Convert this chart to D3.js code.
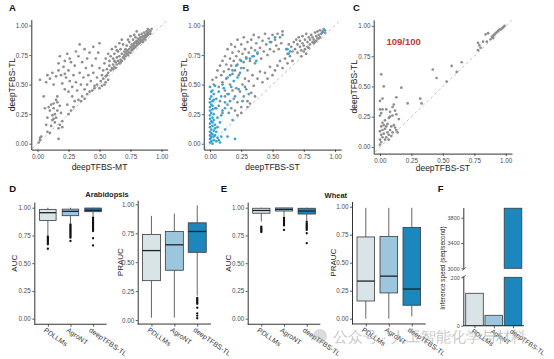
<!DOCTYPE html>
<html><head><meta charset="utf-8">
<script src="https://cdn.jsdelivr.net/npm/d3@7"></script>
<style>
body{margin:0;background:#fff;}
svg text{font-family:"Liberation Sans",Arial,Helvetica,sans-serif;}
</style></head><body>
<svg id="c" width="554" height="359"></svg>
<script>
// ---------------- DATA ----------------
const ticks01 = [0, 0.25, 0.5, 0.75, 1];

const scatterA = [
[0.01,0.01],[0.02,0.03],[0.02,0.05],[0.03,0.06],[0.02,0.54],[0.05,0.40],[0.06,0.30],[0.07,0.16],[0.08,0.10],[0.10,0.09],
[0.08,0.22],[0.09,0.31],[0.10,0.28],[0.11,0.33],[0.12,0.24],[0.12,0.20],[0.13,0.30],[0.13,0.34],[0.14,0.25],[0.14,0.18],
[0.15,0.22],[0.15,0.37],[0.16,0.28],[0.16,0.40],[0.17,0.13],[0.17,0.04],[0.18,0.32],[0.18,0.16],[0.19,0.26],[0.20,0.14],
[0.20,0.19],[0.16,0.35],[0.13,0.21],[0.11,0.15],
[0.07,0.52],[0.08,0.58],[0.10,0.55],[0.12,0.60],[0.13,0.50],[0.15,0.57],[0.17,0.68],[0.17,0.62],[0.18,0.74],[0.19,0.58],
[0.20,0.51],[0.21,0.65],[0.22,0.70],[0.22,0.46],[0.23,0.56],[0.24,0.76],[0.25,0.62],[0.25,0.44],[0.26,0.53],[0.27,0.69],
[0.28,0.48],[0.28,0.40],[0.29,0.58],[0.30,0.66],[0.31,0.78],[0.31,0.52],[0.32,0.45],[0.33,0.74],[0.34,0.84],[0.34,0.60],
[0.35,0.50],[0.36,0.69],[0.37,0.56],[0.38,0.80],[0.38,0.46],[0.39,0.64],[0.40,0.72],[0.40,0.50],[0.41,0.58],[0.42,0.77],
[0.43,0.53],[0.44,0.66],[0.45,0.82],[0.45,0.60],[0.46,0.49],[0.47,0.72],[0.48,0.56],[0.49,0.77],[0.50,0.64],[0.50,0.85],
[0.22,0.59],[0.26,0.72],[0.29,0.31],[0.30,0.36],[0.27,0.28],[0.24,0.33],[0.33,0.37],[0.36,0.40],[0.25,0.25],
[0.35,0.36],[0.40,0.42],[0.42,0.44],[0.46,0.47],[0.48,0.50],[0.44,0.45],[0.38,0.38],
[0.52,0.49],[0.55,0.52],[0.57,0.54],[0.50,0.47],[0.54,0.50],
[0.51,0.53],[0.52,0.58],[0.53,0.62],[0.54,0.68],[0.55,0.57],[0.55,0.72],[0.56,0.63],[0.57,0.60],[0.57,0.76],[0.58,0.66],
[0.58,0.70],[0.59,0.62],[0.59,0.74],[0.60,0.64],[0.60,0.80],[0.53,0.55],[0.56,0.58],
[0.61,0.67],[0.61,0.72],[0.62,0.65],[0.62,0.76],[0.63,0.69],[0.63,0.82],[0.64,0.67],[0.64,0.73],[0.65,0.70],[0.65,0.78],
[0.66,0.68],[0.66,0.74],[0.67,0.71],[0.67,0.80],[0.68,0.70],[0.68,0.76],[0.69,0.73],[0.69,0.84],[0.70,0.72],[0.70,0.78],
[0.62,0.70],[0.64,0.79],[0.66,0.85],[0.68,0.88],[0.61,0.63],[0.63,0.64],[0.67,0.69],
[0.71,0.74],[0.71,0.80],[0.72,0.76],[0.72,0.83],[0.73,0.75],[0.73,0.78],[0.74,0.80],[0.74,0.86],[0.75,0.77],[0.75,0.82],
[0.76,0.79],[0.76,0.84],[0.77,0.80],[0.77,0.88],[0.78,0.81],[0.78,0.85],[0.79,0.82],[0.79,0.90],[0.80,0.83],[0.80,0.87],
[0.72,0.79],[0.74,0.77],[0.76,0.81],[0.78,0.83],[0.73,0.88],[0.75,0.91],[0.71,0.77],[0.77,0.83],[0.79,0.86],[0.70,0.75],
[0.81,0.84],[0.81,0.89],[0.82,0.85],[0.82,0.92],[0.83,0.86],[0.83,0.88],[0.84,0.87],[0.84,0.93],[0.85,0.88],[0.85,0.91],
[0.86,0.89],[0.86,0.94],[0.87,0.90],[0.87,0.92],[0.88,0.91],[0.88,0.95],[0.89,0.92],[0.89,0.94],[0.90,0.93],[0.90,0.96],
[0.91,0.95],[0.92,0.97],[0.81,0.86],[0.83,0.90],[0.85,0.86],[0.87,0.88],[0.84,0.90],[0.86,0.91],[0.88,0.93],[0.82,0.88],
[0.80,0.85],[0.89,0.97],[0.91,0.93],[0.78,0.92],[0.80,0.95]
];

const scatterBGray = [
[0.02,0.54],[0.03,0.50],[0.05,0.56],[0.06,0.62],[0.07,0.48],[0.08,0.66],[0.09,0.58],[0.10,0.70],[0.10,0.52],[0.11,0.61],
[0.12,0.74],[0.12,0.45],[0.13,0.67],[0.14,0.56],[0.14,0.80],[0.15,0.63],[0.16,0.72],[0.16,0.50],[0.17,0.84],[0.17,0.66],
[0.18,0.59],[0.18,0.77],[0.19,0.70],[0.20,0.62],[0.20,0.82],[0.21,0.74],[0.22,0.67],[0.22,0.88],[0.23,0.58],[0.23,0.78],
[0.24,0.71],[0.25,0.84],[0.25,0.64],[0.26,0.76],[0.27,0.90],[0.27,0.69],[0.28,0.80],[0.29,0.73],[0.30,0.86],[0.30,0.62],
[0.31,0.77],[0.32,0.70],[0.33,0.88],[0.33,0.81],[0.34,0.74],[0.35,0.92],[0.36,0.79],[0.36,0.68],[0.37,0.85],[0.38,0.76],
[0.39,0.90],[0.40,0.81],[0.41,0.72],[0.42,0.87],[0.43,0.78],[0.44,0.93],[0.45,0.84],[0.46,0.75],[0.47,0.89],[0.48,0.80],
[0.49,0.86],[0.50,0.92],[0.51,0.78],[0.52,0.88],[0.53,0.83],[0.54,0.93],[0.55,0.80],[0.56,0.90],[0.57,0.85],[0.58,0.95],
[0.05,0.30],[0.08,0.36],[0.10,0.26],[0.12,0.40],[0.14,0.33],[0.15,0.42],[0.17,0.30],[0.18,0.45],[0.19,0.38],[0.20,0.28],
[0.21,0.47],[0.22,0.35],[0.24,0.44],[0.25,0.31],[0.26,0.50],[0.27,0.40],[0.28,0.55],[0.29,0.46],[0.30,0.36],[0.31,0.53],
[0.33,0.43],[0.34,0.58],[0.35,0.49],[0.36,0.40],[0.38,0.55],[0.40,0.61],[0.42,0.52],[0.44,0.60],[0.46,0.55],[0.48,0.65],
[0.50,0.58],[0.52,0.62],[0.54,0.66],[0.56,0.70],[0.58,0.64],[0.25,0.26],[0.22,0.24],[0.30,0.31],[0.32,0.34],
[0.60,0.72],[0.61,0.80],[0.62,0.76],[0.63,0.84],[0.64,0.74],[0.65,0.82],[0.66,0.78],[0.67,0.86],[0.68,0.80],[0.69,0.88],
[0.70,0.77],[0.70,0.84],[0.71,0.90],[0.72,0.82],[0.72,0.87],[0.73,0.79],[0.74,0.85],[0.74,0.91],[0.75,0.83],[0.76,0.88],
[0.76,0.80],[0.77,0.93],[0.78,0.86],[0.78,0.82],[0.79,0.90],[0.80,0.84],[0.80,0.88],[0.81,0.92],[0.82,0.86],[0.82,0.90],
[0.83,0.88],[0.84,0.94],[0.84,0.86],[0.85,0.91],[0.86,0.89],[0.86,0.95],[0.87,0.92],[0.88,0.90],[0.88,0.96],[0.89,0.93],
[0.90,0.95],[0.91,0.97],[0.92,0.94],[0.75,0.78],[0.79,0.81],[0.83,0.85],[0.85,0.87],[0.87,0.89],[0.73,0.74],[0.77,0.76],
[0.66,0.70],[0.62,0.68]
];

const scatterBBlue = [
[0.00,0.01],[0.01,0.02],[0.02,0.00],[0.00,0.04],[0.01,0.06],[0.03,0.03],[0.02,0.08],[0.00,0.10],[0.01,0.12],[0.03,0.11],
[0.02,0.15],[0.00,0.17],[0.01,0.19],[0.04,0.16],[0.02,0.22],[0.00,0.24],[0.01,0.26],[0.03,0.25],[0.02,0.29],[0.00,0.31],
[0.01,0.33],[0.04,0.30],[0.02,0.36],[0.00,0.38],[0.01,0.40],[0.03,0.42],[0.02,0.45],[0.00,0.48],[0.04,0.49],[0.01,0.05],
[0.05,0.02],[0.06,0.05],[0.04,0.07],[0.00,0.14],[0.02,0.18],[0.00,0.21],[0.03,0.20],[0.00,0.28],[0.02,0.32],[0.00,0.35],
[0.03,0.37],[0.01,0.44],[0.05,0.10],[0.06,0.14],[0.07,0.03],[0.09,0.06],[0.08,0.01],[0.03,0.06],[0.01,0.09],[0.04,0.13],
[0.00,0.07],
[0.06,0.22],[0.07,0.32],[0.08,0.18],[0.09,0.40],[0.10,0.28],[0.11,0.47],[0.12,0.35],[0.12,0.12],[0.13,0.55],[0.14,0.42],
[0.15,0.26],[0.16,0.58],[0.16,0.36],[0.17,0.48],[0.18,0.62],[0.18,0.20],[0.19,0.53],[0.20,0.04],[0.20,0.40],[0.21,0.66],
[0.22,0.56],[0.23,0.46],[0.24,0.60],[0.25,0.70],[0.26,0.36],[0.27,0.64],[0.28,0.48],[0.29,0.72],[0.31,0.42],[0.32,0.72],
[0.35,0.74],[0.37,0.70],[0.38,0.77],[0.09,0.24],[0.14,0.06],[0.10,0.50],[0.05,0.38],[0.07,0.44],[0.12,0.30],
[0.62,0.80],[0.64,0.78],[0.63,0.76],[0.90,0.94],[0.92,0.96],[0.58,0.92],[0.48,0.86],[0.52,0.90]
];

const scatterC = [
[0.01,0.60],[0.03,0.50],[0.02,0.40],[0.00,0.38],[0.17,0.49],[0.13,0.41],[0.42,0.64],[0.45,0.57],[0.57,0.67],[0.65,0.70],
[0.61,0.62],[0.53,0.54],[0.32,0.40],[0.33,0.36],[0.22,0.36],
[0.00,0.31],[0.02,0.31],[0.05,0.31],[0.10,0.33],[0.08,0.25],[0.13,0.27],[0.15,0.23],[0.13,0.14],[0.12,0.16],[0.14,0.12],
[0.78,0.86],[0.79,0.84],[0.80,0.82],[0.78,0.80],[0.82,0.87],[0.84,0.93],[0.86,0.94],[0.85,0.87],
[0.89,0.91],[0.90,0.92],[0.91,0.93],[0.92,0.94],[0.93,0.95],[0.94,0.96],[0.95,0.97],[0.96,0.97],[0.97,0.98],[0.98,0.99],
[0.99,1.00],[0.90,0.90],[0.88,0.89],
[0.00,0.02],[0.01,0.04],[0.00,0.06],[0.02,0.08],[0.01,0.10],[0.03,0.11],[0.00,0.13],[0.02,0.14],[0.04,0.15],[0.01,0.17],
[0.03,0.18],[0.05,0.17],[0.06,0.12],[0.07,0.10],[0.05,0.08],[0.08,0.14],[0.09,0.17],[0.04,0.06],[0.06,0.19],[0.02,0.20],
[0.07,0.06],[0.10,0.12],[0.09,0.09],[0.11,0.18],[0.00,0.26],[0.01,0.28],[0.04,0.22],[0.07,0.24],[0.10,0.26],[0.12,0.30],
[0.11,0.35],[0.08,0.29]
];

const models = ["PDLLMs", "AgroNT", "deepTFBS-TL"];

// box stats: [lower whisker, q1, median, q3, upper whisker]
const aucAraStats = [[0.745,0.885,0.955,0.985,1.0],[0.86,0.928,0.967,0.987,1.0],[0.92,0.964,0.977,0.997,1.0]];
const aucAraOut = [
 [0.74,0.73,0.72,0.71,0.70,0.69,0.68,0.67,0.63],
 [0.85,0.84,0.83,0.82,0.81,0.80,0.79,0.78,0.77,0.76,0.75,0.74,0.73,0.70],
 [0.91,0.90,0.89,0.88,0.87,0.86,0.85,0.84,0.83,0.82,0.81,0.80,0.79,0.725,0.66]
];
const prAraStats = [[0.02,0.34,0.60,0.74,0.90],[0.02,0.43,0.65,0.765,0.92],[0.21,0.585,0.765,0.84,0.99]];
const prAraOut = [[],[],[0.19,0.18,0.17,0.16,0.15,0.14,0.106,0.058,0.037,0.015]];

const aucWheatStats = [[0.875,0.95,0.975,0.995,1.0],[0.925,0.97,0.985,0.998,1.0],[0.885,0.943,0.97,0.995,1.0]];
const aucWheatOut = [
 [0.83,0.82,0.81,0.80,0.79,0.78],
 [0.91,0.90,0.89,0.88,0.87,0.86,0.85,0.84,0.80],
 [0.875,0.86,0.85,0.84,0.83,0.82,0.81,0.80,0.77,0.68]
];
const prWheatStats = [[0.0,0.158,0.336,0.73,0.99],[0.0,0.23,0.38,0.735,0.99],[0.02,0.12,0.265,0.815,0.99]];
const prWheatOut = [[],[],[]];

const speeds = [134, 43, 3950];
const speedTicksLow = [0, 200];
const speedTicksHigh = [3000, 3400, 3800];

// ---------------- DRAWING ----------------
const svg = d3.select("#c");
const FF = "'Liberation Sans', Arial, Helvetica, sans-serif";
const GRAY = "#8e8e8e", BLUE = "#35a5d6";
const boxFill = {"PDLLMs":"#d9e4e8","AgroNT":"#9bc6de","deepTFBS-TL":"#1b87bd"};

function styleAxis(g, fs){
  g.attr("font-family", FF);
  g.select(".domain").attr("stroke","#333").attr("stroke-width",1);
  g.selectAll(".tick line").attr("stroke","#333").attr("stroke-width",0.8);
  g.selectAll(".tick text").attr("fill","#4d4d4d").attr("font-size",fs);
}
function letter(t,x,y){
  svg.append("text").attr("x",x).attr("y",y).attr("font-size",9.5).attr("font-weight","bold").attr("fill","#111").text(t);
}
function vTitle(t,x,y,fs){
  svg.append("text").attr("transform",`translate(${x},${y}) rotate(-90)`).attr("text-anchor","middle")
    .attr("dy","0.35em").attr("font-size",fs).attr("fill","#222").text(t);
}

function scatter(cfg){
  const x = d3.scaleLinear().domain(cfg.xd).range(cfg.xr);
  const y = d3.scaleLinear().domain(cfg.yd).range(cfg.yr);
  const g = svg.append("g");
  g.append("line").attr("x1",x(-0.04)).attr("y1",y(-0.04)).attr("x2",x(1.05)).attr("y2",y(1.05))
    .attr("stroke","#bdbdbd").attr("stroke-width",0.9).attr("stroke-dasharray","3,2.5");
  cfg.series.forEach(s=>{
    g.selectAll(null).data(s.pts).enter().append("circle")
      .attr("cx",d=>x(d[0])).attr("cy",d=>y(d[1])).attr("r",1.35).attr("fill",s.color);
  });
  const ay = svg.append("g").attr("transform",`translate(${cfg.xr[0]},0)`)
    .call(d3.axisLeft(y).tickValues(ticks01).tickFormat(d3.format(".2f")).tickSize(2).tickSizeOuter(0).tickPadding(1.2));
  styleAxis(ay,6.3);
  const ax = svg.append("g").attr("transform",`translate(0,${cfg.yr[0]})`)
    .call(d3.axisBottom(x).tickValues(ticks01).tickFormat(d3.format(".2f")).tickSize(2.5).tickSizeOuter(0).tickPadding(2));
  styleAxis(ax,6.3);
  svg.append("text").attr("x",(cfg.xr[0]+cfg.xr[1])/2).attr("y",cfg.xtY).attr("text-anchor","middle")
    .attr("font-size",8.5).attr("fill","#222").text(cfg.xt);
  vTitle("deepTFBS-TL", cfg.xr[0]-19.5, (cfg.yr[0]+cfg.yr[1])/2, 8.5);
  return {x,y};
}

scatter({xd:[-0.05,1.05], xr:[31.3,167.7], yd:[-0.05,1.05], yr:[149.6,19.6], xt:"deepTFBS-MT", xtY:170,
  series:[{pts:scatterA,color:GRAY}]});
scatter({xd:[-0.05,1.05], xr:[203.75,341.25], yd:[-0.05,1.05], yr:[149.6,19.6], xt:"deepTFBS-ST", xtY:170,
  series:[{pts:scatterBGray,color:GRAY},{pts:scatterBBlue,color:BLUE}]});
scatter({xd:[-0.05,1.05], xr:[373.7,512], yd:[-0.055,1.05], yr:[153.6,19.9], xt:"deepTFBS-ST", xtY:171,
  series:[{pts:scatterC,color:GRAY}]});
svg.append("text").attr("x",386.5).attr("y",45).attr("font-size",9.5).attr("font-weight","bold")
  .attr("fill","#c0393b").text("109/100");

letter("A",9,11); letter("B",182.5,11); letter("C",353,11);

function boxPanel(cfg){
  const y = d3.scaleLinear().domain(cfg.yd).range(cfg.yr);
  const xp = d3.scalePoint().domain(models).range([cfg.ax+0.6*cfg.step, cfg.ax+2.6*cfg.step]);
  const w = cfg.bw;
  const g = svg.append("g");
  models.forEach((m,i)=>{
    const s = cfg.stats[i], cx = xp(m);
    g.append("line").attr("x1",cx).attr("x2",cx).attr("y1",y(s[4])).attr("y2",y(s[3])).attr("stroke","#555").attr("stroke-width",0.9);
    g.append("line").attr("x1",cx).attr("x2",cx).attr("y1",y(s[1])).attr("y2",y(s[0])).attr("stroke","#555").attr("stroke-width",0.9);
    g.append("rect").attr("x",cx-w/2).attr("width",w).attr("y",y(s[3])).attr("height",y(s[1])-y(s[3]))
      .attr("fill",boxFill[m]).attr("stroke","#3a3a3a").attr("stroke-width",0.8);
    g.append("line").attr("x1",cx-w/2).attr("x2",cx+w/2).attr("y1",y(s[2])).attr("y2",y(s[2])).attr("stroke","#222").attr("stroke-width",1.3);
    g.selectAll(null).data(cfg.out[i]).enter().append("circle").attr("cx",cx).attr("cy",d=>y(d)).attr("r",1.15).attr("fill","#111");
  });
  const ay = svg.append("g").attr("transform",`translate(${cfg.ax},0)`)
    .call(d3.axisLeft(y).tickValues(ticks01).tickFormat(d3.format(".2f")).tickSize(2).tickSizeOuter(0).tickPadding(1.5));
  styleAxis(ay,6.3);
  const base = cfg.yr[0];
  const ax = svg.append("g").attr("transform",`translate(0,${base})`)
    .call(d3.axisBottom(xp).tickSize(2.5).tickSizeOuter(0));
  styleAxis(ax,7);
  ax.select(".domain").remove();
  ax.append("line").attr("x1",cfg.ax).attr("x2",cfg.ax+3.2*cfg.step).attr("y1",0).attr("y2",0).attr("stroke","#333").attr("stroke-width",1);
  ax.selectAll(".tick text").attr("y",0).attr("dy",null).attr("text-anchor","start")
    .attr("transform","translate(-5,7) rotate(35)").attr("fill","#333");
  vTitle(cfg.title, cfg.tx, (cfg.yr[0]+cfg.yr[1])/2, 8);
}

boxPanel({ax:34.3, step:22.6, bw:16.5, yd:[-0.05,1.05], yr:[324.25,202.15], stats:aucAraStats, out:aucAraOut, title:"AUC", tx:14});
boxPanel({ax:137.7, step:22.9, bw:18, yd:[-0.035,1.035], yr:[324.05,200.25], stats:prAraStats, out:prAraOut, title:"PRAUC", tx:120});
boxPanel({ax:247.7, step:22.7, bw:17.3, yd:[-0.05,1.05], yr:[324.25,202.15], stats:aucWheatStats, out:aucWheatOut, title:"AUC", tx:228.3});
boxPanel({ax:352, step:23, bw:17.6, yd:[-0.047,1.047], yr:[323.96,201.44], stats:prWheatStats, out:prWheatOut, title:"PRAUC", tx:333.3});

svg.append("text").attr("x",107).attr("y",197).attr("text-anchor","middle").attr("font-size",7.5)
  .attr("font-weight","bold").attr("fill","#222").text("Arabidopsis");
svg.append("text").attr("x",335.8).attr("y",197.5).attr("text-anchor","middle").attr("font-size",7.5)
  .attr("font-weight","bold").attr("fill","#222").text("Wheat");
letter("D",9.3,192); letter("E",220.7,192); letter("F",437.7,192);

// Panel F: broken-axis bar chart
(function(){
  const axX = 463.3;
  const yLow = d3.scaleLinear().domain([0,205]).range([325.7,276.1]);
  const yHigh = d3.scaleLinear().domain([3000,3960]).range([268.3,207.6]);
  const xb = d3.scalePoint().domain(models).range([474.5,513]);
  const bw = 17.6;
  const g = svg.append("g");
  models.forEach((m,i)=>{
    const v = speeds[i], cx = xb(m);
    const lowTop = Math.min(v,200);
    g.append("rect").attr("x",cx-bw/2).attr("width",bw).attr("y",yLow(lowTop)).attr("height",yLow(0)-yLow(lowTop))
      .attr("fill",boxFill[m]).attr("stroke","#3a3a3a").attr("stroke-width",0.8);
    if (v > 3000){
      g.append("rect").attr("x",cx-bw/2).attr("width",bw).attr("y",yHigh(v)).attr("height",yHigh(3000)-yHigh(v))
        .attr("fill",boxFill[m]).attr("stroke","#3a3a3a").attr("stroke-width",0.8);
    }
  });
  const a1 = svg.append("g").attr("transform",`translate(${axX},0)`)
    .call(d3.axisLeft(yLow).tickValues(speedTicksLow).tickFormat(d3.format("d")).tickSize(2).tickSizeOuter(0).tickPadding(1.5));
  styleAxis(a1,5.5);
  const a2 = svg.append("g").attr("transform",`translate(${axX},0)`)
    .call(d3.axisLeft(yHigh).tickValues(speedTicksHigh).tickFormat(d3.format("d")).tickSize(2).tickSizeOuter(0).tickPadding(1.5));
  styleAxis(a2,5.5);
  // break marks
  svg.append("line").attr("x1",axX-1).attr("y1",270.5).attr("x2",axX+2.5).attr("y2",267.5).attr("stroke","#333").attr("stroke-width",0.8);
  svg.append("line").attr("x1",axX-1).attr("y1",277.3).attr("x2",axX+2.5).attr("y2",275.6).attr("stroke","#333").attr("stroke-width",0.8);
  const ax = svg.append("g").attr("transform",`translate(0,325.7)`)
    .call(d3.axisBottom(xb).tickSize(2.5).tickSizeOuter(0));
  styleAxis(ax,6.5);
  ax.select(".domain").remove();
  ax.append("line").attr("x1",axX).attr("x2",524).attr("stroke","#333").attr("stroke-width",1);
  ax.selectAll(".tick text").attr("y",0).attr("dy",null).attr("text-anchor","start")
    .attr("transform","translate(-4,6.5) rotate(35)").attr("fill","#333");
  vTitle("Inference speed (seq/second)", 442.5, 268, 6.3);
})();

// faint watermark present in the reference image
svg.append("circle").attr("cx",320).attr("cy",336).attr("r",7).attr("fill","#9a9a9a").attr("opacity",0.35);
svg.append("text").attr("x",333).attr("y",342).attr("font-family","'Noto Sans CJK SC'").attr("font-size",14.5)
  .attr("fill","#a0a0a0").attr("opacity",0.55).text("公众号 · 人工智能化学与材料");
</script>
</body></html>
